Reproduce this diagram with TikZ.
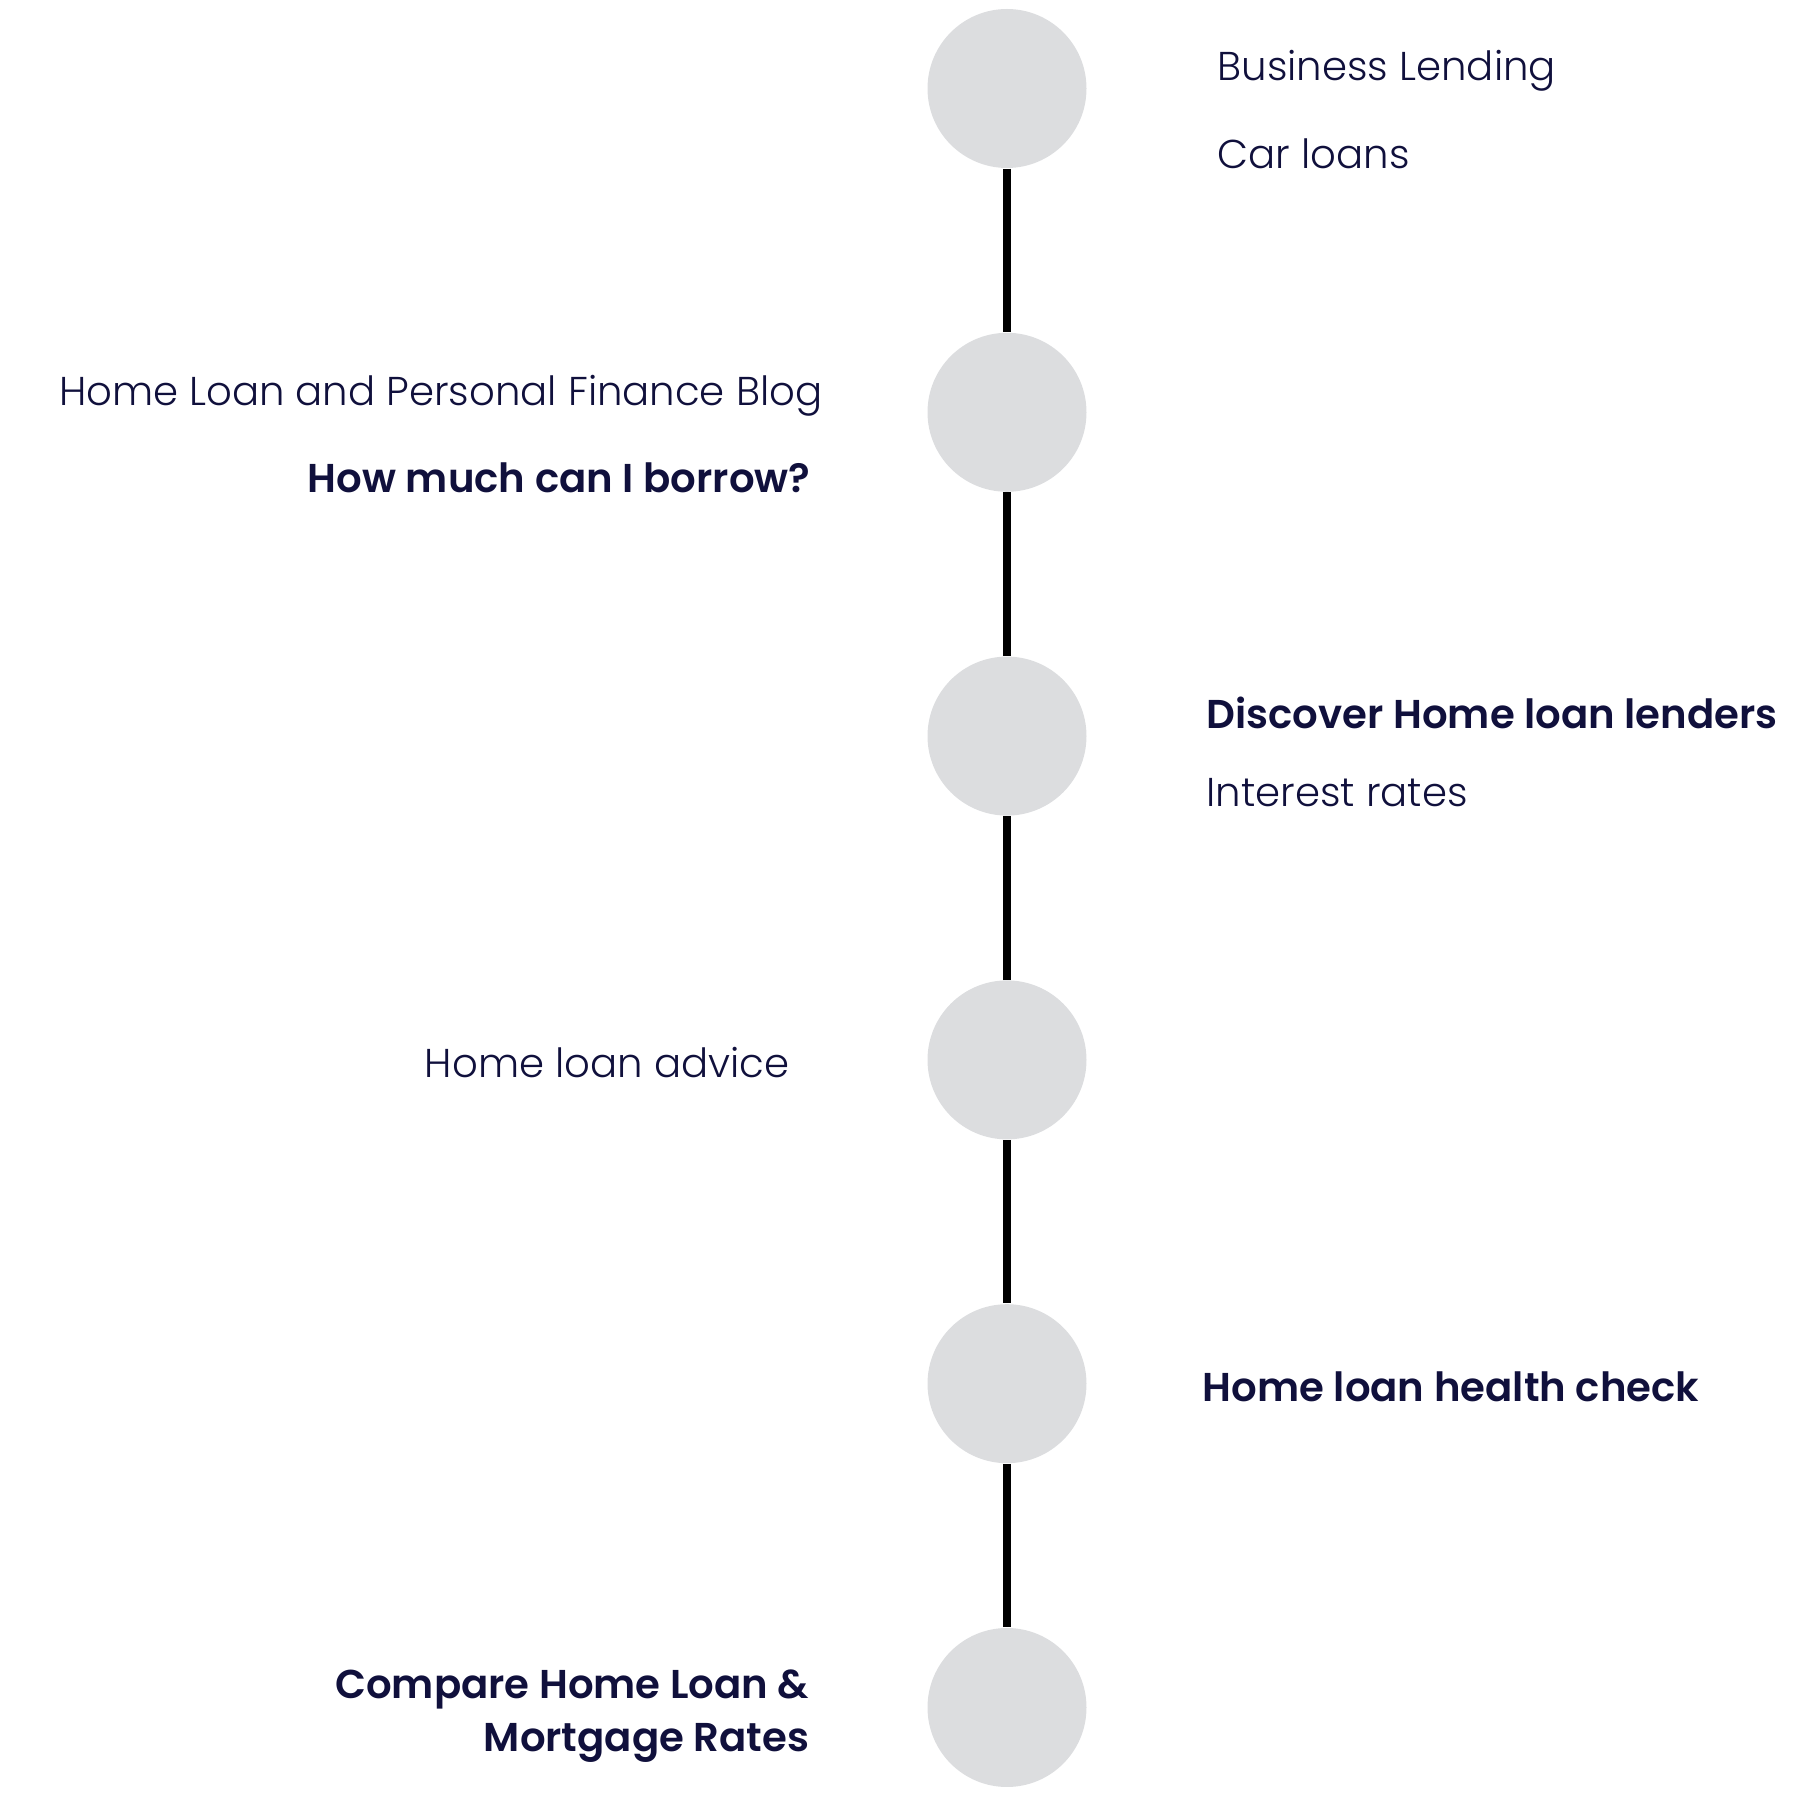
\documentclass[tikz,border=0pt]{standalone}
\usepackage{fontspec}
\setmainfont{Poppins}[UprightFont={* Light}, BoldFont={* SemiBold}]
\usepackage{tikz}
\definecolor{navy}{HTML}{10103C}
\definecolor{dotgray}{HTML}{DCDDDF}

\begin{document}
\begin{tikzpicture}[
    dot/.style = {circle, fill=dotgray, minimum size=1.59cm, inner sep=0pt},
    item/.style = {text=navy, inner sep=0pt, font=\fontsize{11.45}{15}\selectfont},
    bolditem/.style = {item, font=\fontsize{11.45}{15}\selectfont\bfseries}
    ]
    \useasboundingbox (0,0) rectangle (18.03,18.03);
    \begin{scope}[nodes=dot]
        \node (d1) at (10.07,17.145) {};
        \node (d2) at (10.07,13.907) {};
        \node (d3) at (10.07,10.669) {};
        \node (d4) at (10.07,7.431) {};
        \node (d5) at (10.07,4.193) {};
        \node (d6) at (10.07,0.955) {};
    \end{scope}
    \begin{scope}[line width=2pt, black]
        \draw (d1) -- (d2);
        \draw (d2) -- (d3);
        \draw (d3) -- (d4);
        \draw (d4) -- (d5);
        \draw (d5) -- (d6);
    \end{scope}
    % right side
    \node[item, anchor=mid west] (business) at (12.17,17.32) {Business Lending};
    \node[item, anchor=mid west] (car) at (12.17,16.44) {Car loans};
    \node[bolditem, anchor=mid west] (lenders) at (12.06,10.84) {Discover Home loan lenders};
    \node[item, anchor=mid west] (rates) at (12.06,10.06) {Interest rates};
    \node[bolditem, anchor=mid west] (health) at (12.02,4.11) {Home loan health check};
    % left side
    \node[item, anchor=mid east] (blog) at (8.23,14.07) {Home Loan and Personal Finance Blog};
    \node[bolditem, anchor=mid east] (borrow) at (8.11,13.20) {How much can I borrow?};
    \node[item, anchor=mid east] (advice) at (7.90,7.35) {Home loan advice};
    \node[bolditem, anchor=east, align=right] (compare) at (8.10,0.87) {Compare Home Loan \&\\Mortgage Rates};
\end{tikzpicture}
\end{document}
